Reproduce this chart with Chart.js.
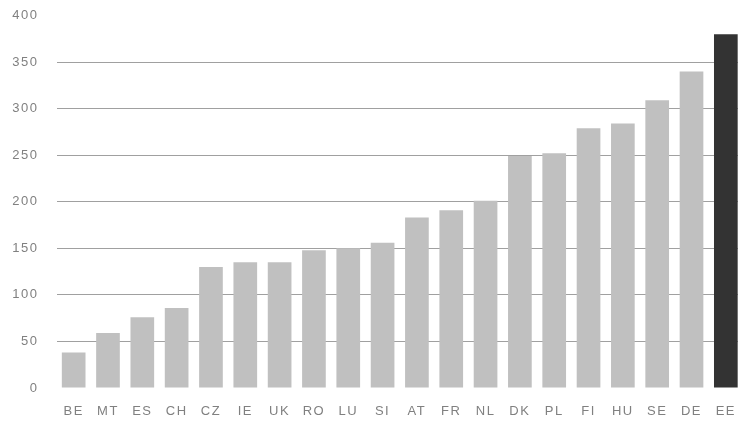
<!DOCTYPE html>
<html>
<head>
<meta charset="utf-8">
<script src="https://cdn.jsdelivr.net/npm/chart.js@4"></script>
<style>
  html, body { margin: 0; padding: 0; background: #fff; overflow: hidden; }
  canvas { display: block; }
</style>
</head>
<body>
<canvas id="chart" width="743" height="423"></canvas>
<script>
"use strict";

// data
const countries = ["BE", "MT", "ES", "CH", "CZ", "IE", "UK", "RO", "LU", "SI",
  "AT", "FR", "NL", "DK", "PL", "FI", "HU", "SE", "DE", "EE"];
const values = [38, 59, 76, 86, 130, 135, 135, 148, 150, 156,
  183, 191, 201, 249, 252, 279, 284, 309, 340, 380];
const highlight = "EE";

const barColors = countries.map(c => (c === highlight ? "#333333" : "#c0c0c0"));

// canvas letter spacing for the tick labels
const spacingPlugin = {
  id: "spacing",
  beforeDraw(chart) {
    chart.ctx.letterSpacing = "1.5px";
  }
};

new Chart(document.getElementById("chart"), {
  type: "bar",
  data: {
    labels: countries,
    datasets: [{
      data: values,
      backgroundColor: barColors,
      barPercentage: 0.69,
      categoryPercentage: 1
    }]
  },
  options: {
    responsive: false,
    animation: false,
    layout: { padding: { top: 15.5, right: 0, left: 0, bottom: 0 } },
    plugins: { legend: { display: false }, tooltip: { enabled: false } },
    scales: {
      x: {
        grid: { display: false, drawTicks: false },
        border: { display: false },
        ticks: {
          padding: 16,
          color: "#808080",
          font: { family: "Liberation Sans", size: 13 },
          maxRotation: 0,
          autoSkip: false
        },
        afterFit(axis) {
          axis.height = 35;
          axis.paddingLeft = 0;
          axis.paddingRight = 0;
        }
      },
      y: {
        min: 0,
        max: 400,
        grid: {
          drawTicks: false,
          color: ctx => (ctx.tick.value === 0 || ctx.tick.value === 400) ? "rgba(0,0,0,0)" : "#a0a0a0",
          lineWidth: 1
        },
        border: { display: false },
        ticks: {
          stepSize: 50,
          padding: 18,
          color: "#808080",
          font: { family: "Liberation Sans", size: 13 }
        },
        afterFit(axis) {
          axis.width = 56.5;
          axis.paddingTop = 0;
          axis.paddingBottom = 0;
        }
      }
    }
  },
  plugins: [spacingPlugin]
});
</script>
</body>
</html>
